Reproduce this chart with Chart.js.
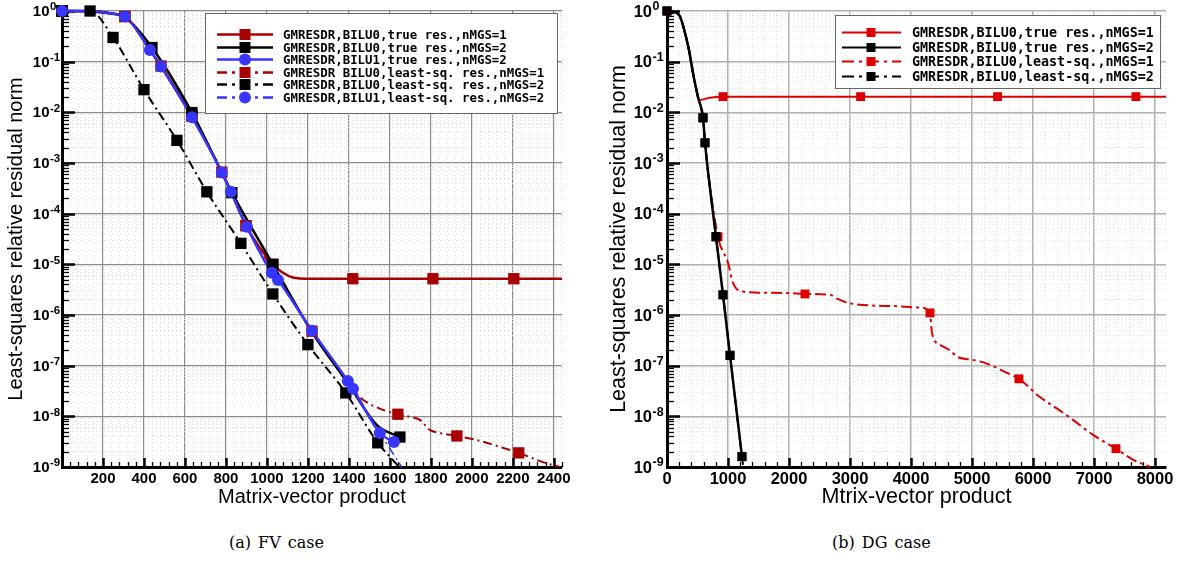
<!DOCTYPE html>
<html>
<head>
<meta charset="utf-8">
<script src="https://cdn.jsdelivr.net/npm/chart.js@4"></script>
<style>
  body { margin: 0; background: #fff; width: 1182px; height: 561px; position: relative; overflow: hidden; }
  canvas { position: absolute; top: 0; }
  #fv { left: 0; }
  #dg { left: 600px; }
  .cap { position: absolute; top: 533px; font: 16px "DejaVu Serif", "Liberation Serif", serif; color: #000; word-spacing: 2px; }
</style>
</head>
<body>
<canvas id="fv" width="590" height="520"></canvas>
<canvas id="dg" width="582" height="520"></canvas>
<div class="cap" style="left:229px">(a) FV case</div>
<div class="cap" style="left:832px">(b) DG case</div>
<script>
// ---------- (a) FV case ----------
const fvLabels = [
  "GMRESDR,BILU0,true res.,nMGS=1",
  "GMRESDR,BILU0,true res.,nMGS=2",
  "GMRESDR,BILU1,true res.,nMGS=2",
  "GMRESDR BILU0,least-sq. res.,nMGS=1",
  "GMRESDR,BILU0,least-sq. res.,nMGS=2",
  "GMRESDR,BILU1,least-sq. res.,nMGS=2"
];
const fvXTicks = [200, 400, 600, 800, 1000, 1200, 1400, 1600, 1800, 2000, 2200, 2400];

// true res., BILU0, nMGS=1
const fvT1X = [0, 137, 234, 307, 429, 483, 634, 780, 824, 898, 1029, 1078, 1127, 1210, 1419, 1810, 2205, 2440];
const fvT1Y = [1, 0.98, 0.9, 0.78, 0.17, 0.082, 0.0085, 6.6e-4, 2.8e-4, 5.8e-5, 1.0e-5, 6.8e-6, 5.5e-6, 5.2e-6, 5.2e-6, 5.2e-6, 5.2e-6, 5.2e-6];
const fvT1M = [0, 307, 483, 634, 780, 898, 1029, 1419, 1810, 2205];
// true res., BILU0, nMGS=2
const fvT2X = [0, 137, 234, 307, 439, 634, 829, 1029, 1220, 1395, 1537, 1649];
const fvT2Y = [1, 1, 0.9, 0.75, 0.19, 0.0099, 2.6e-4, 1.0e-5, 4.6e-7, 4.5e-8, 6.7e-9, 3.9e-9];
const fvT2M = [0, 439, 634, 829, 1029, 1649];
// true res., BILU1, nMGS=2
const fvT3X = [0, 137, 234, 307, 429, 483, 634, 780, 824, 902, 1024, 1054, 1220, 1395, 1420, 1551, 1620];
const fvT3Y = [1, 1, 0.9, 0.78, 0.17, 0.08, 0.008, 6.5e-4, 2.7e-4, 5.5e-5, 6.8e-6, 4.9e-6, 4.9e-7, 5e-8, 3.5e-8, 4.7e-9, 3.1e-9];
const fvT3M = [0, 307, 429, 634, 780, 902, 1024, 1220, 1395, 1551, 1620];
// least-sq. res., BILU0, nMGS=1
const fvL1X = [0, 137, 234, 307, 429, 483, 634, 780, 898, 1029, 1220, 1395, 1454, 1537, 1639, 1698, 1746, 1795, 1844, 1927, 2024, 2151, 2229, 2346, 2429];
const fvL1Y = [1, 1, 0.9, 0.78, 0.17, 0.082, 0.0085, 6.6e-4, 5.8e-5, 8e-6, 4.8e-7, 5e-8, 2.4e-8, 1.5e-8, 1.1e-8, 9.8e-9, 8.5e-9, 5.4e-9, 4.7e-9, 4.1e-9, 3.4e-9, 2.4e-9, 1.9e-9, 1.25e-9, 1e-9];
const fvL1M = [0, 307, 634, 898, 1220, 1639, 1927, 2229];
// least-sq. res., BILU0, nMGS=2
const fvL2X = [0, 137, 249, 400, 561, 707, 873, 1029, 1200, 1385, 1541, 1624, 1645];
const fvL2Y = [1, 1, 0.30, 0.028, 0.0028, 2.7e-4, 2.6e-5, 2.6e-6, 2.6e-7, 2.9e-8, 3.0e-9, 1.25e-9, 1e-9];
const fvL2M = [0, 137, 249, 400, 561, 707, 873, 1029, 1200, 1385, 1541];
// least-sq. res., BILU1, nMGS=2
const fvL3X = [0, 137, 234, 307, 429, 483, 634, 780, 824, 902, 1024, 1054, 1220, 1395, 1420, 1551, 1658];
const fvL3Y = [1, 1, 0.9, 0.78, 0.17, 0.08, 0.008, 6.5e-4, 2.7e-4, 5.5e-5, 6.8e-6, 4.9e-6, 4.9e-7, 5e-8, 3.5e-8, 4.7e-9, 1e-9];
const fvL3M = [483, 824, 1054, 1420];

// ---------- (b) DG case ----------
const dgLabels = [
  "GMRESDR,BILU0,true res.,nMGS=1",
  "GMRESDR,BILU0,true res.,nMGS=2",
  "GMRESDR,BILU0,least-sq.,nMGS=1",
  "GMRESDR,BILU0,least-sq.,nMGS=2"
];
const dgXTicks = [0, 1000, 2000, 3000, 4000, 5000, 6000, 7000, 8000];

const dgT1X = [0, 100, 213, 295, 360, 426, 508, 541, 590, 705, 918, 3174, 5419, 7687, 8180];
const dgT1Y = [1, 0.97, 0.78, 0.37, 0.17, 0.06, 0.02, 0.0175, 0.018, 0.0195, 0.0204, 0.0204, 0.0204, 0.0204, 0.0204];
const dgT1M = [0, 918, 3174, 5419, 7687];

const dgT2X = [0, 100, 213, 295, 360, 426, 508, 590, 623, 803, 918, 1033, 1229];
const dgT2Y = [1, 0.97, 0.78, 0.37, 0.17, 0.06, 0.02, 0.0078, 0.0025, 3.5e-5, 2.5e-6, 1.6e-7, 1.6e-9];
const dgT2M = [0, 590, 623, 803, 918, 1033, 1229];

const dgL1X = [0, 100, 213, 295, 360, 426, 508, 590, 623, 836, 1000, 1082, 1246, 1600, 2016, 2262, 2672, 2787, 3000, 3705, 4147, 4311, 4344, 4475, 4639, 4754, 5016, 5245, 5573, 5770, 6115, 6442, 6655, 6983, 7360, 7638, 7917];
const dgL1Y = [1, 0.97, 0.78, 0.37, 0.17, 0.06, 0.02, 0.0078, 0.0025, 3.5e-5, 1.07e-5, 4.3e-6, 2.9e-6, 2.75e-6, 2.7e-6, 2.6e-6, 2.5e-6, 2.1e-6, 1.7e-6, 1.5e-6, 1.4e-6, 1.1e-6, 4.4e-7, 2.6e-7, 2.0e-7, 1.5e-7, 1.3e-7, 1.1e-7, 7.2e-8, 5.5e-8, 2.4e-8, 1.3e-8, 8.5e-9, 4.3e-9, 2.3e-9, 1.4e-9, 1e-9];
const dgL1M = [590, 836, 2262, 4311, 5770, 7360];

const dgL2X = [0, 100, 213, 295, 360, 426, 508, 590, 623, 803, 918, 1033, 1229, 1246];
const dgL2Y = [1, 0.97, 0.78, 0.37, 0.17, 0.06, 0.02, 0.0078, 0.0025, 3.5e-5, 2.5e-6, 1.6e-7, 1.6e-9, 1.1e-9];
const dgL2M = [0, 590, 623, 803, 918, 1033, 1229];

const yDecades = [0, -1, -2, -3, -4, -5, -6, -7, -8, -9];

const SANS = '"Liberation Sans", Arial, Helvetica, sans-serif';
const MONO = '"DejaVu Sans Mono", monospace';

function pts(xs, ys) { return xs.map((x, i) => ({ x: x, y: ys[i] })); }
function marks(xs, ys, mx) { return mx.map(x => ({ x: x, y: ys[xs.indexOf(x)] })); }
function isDecade(v) { const l = Math.log10(v); return Math.abs(l - Math.round(l)) < 1e-6; }

// inward tick marks + 10^k labels
const axisDeco = {
  id: 'axisDeco',
  beforeDatasetsDraw(chart, args, o) {
    const { ctx, chartArea: a } = chart;
    const x = chart.scales.x, y = chart.scales.y;
    ctx.save();
    ctx.strokeStyle = '#000';
    ctx.lineCap = 'butt';
    x.ticks.forEach(t => {
      const px = Math.round(x.getPixelForValue(t.value)) + 0.5;
      const major = t.value % o.xMajor === 0;
      ctx.lineWidth = major ? 2.5 : 1.3;
      ctx.beginPath();
      ctx.moveTo(px, a.bottom);
      ctx.lineTo(px, a.bottom - (major ? o.xMajLen : o.xMinLen));
      ctx.stroke();
    });
    y.ticks.forEach(t => {
      const py = Math.round(y.getPixelForValue(t.value)) + 0.5;
      const major = isDecade(t.value);
      ctx.lineWidth = major ? 2.5 : 1.3;
      ctx.beginPath();
      ctx.moveTo(a.left, py);
      ctx.lineTo(a.left + (major ? o.yMajLen : o.yMinLen), py);
      ctx.stroke();
    });
    ctx.fillStyle = '#000';
    ctx.textBaseline = 'middle';
    yDecades.forEach(k => {
      const py = y.getPixelForValue(Math.pow(10, k));
      ctx.font = 'bold ' + o.labSize + 'px ' + SANS;
      ctx.textAlign = 'right';
      ctx.fillText('10', a.left - o.labGap, py + 1);
      ctx.font = 'bold ' + o.expSize + 'px ' + SANS;
      ctx.textAlign = 'left';
      ctx.fillText(String(k), a.left - o.labGap + 0.5, py - 4);
    });
    ctx.restore();
  }
};

// boxed legend, line + marker + label
const boxLegend = {
  id: 'boxLegend',
  afterDraw(chart, args, o) {
    const { ctx, chartArea: a } = chart;
    const x0 = a.left + o.dx, y0 = a.top + o.dy;
    ctx.save();
    ctx.fillStyle = '#fff';
    ctx.fillRect(x0, y0, o.w, o.h);
    ctx.strokeStyle = '#666';
    ctx.lineWidth = 1;
    ctx.strokeRect(x0 + 0.5, y0 + 0.5, o.w, o.h);
    o.items.forEach((it, i) => {
      const cy = Math.round(y0 + o.first + i * o.step) + 0.5;
      ctx.strokeStyle = it.color;
      ctx.lineWidth = it.width;
      ctx.setLineDash(it.dash);
      ctx.beginPath();
      ctx.moveTo(x0 + o.lx0, cy);
      ctx.lineTo(x0 + o.lx1, cy);
      ctx.stroke();
      ctx.setLineDash([]);
      ctx.fillStyle = it.color;
      const mx = x0 + o.mx;
      if (it.marker === 'circle') {
        ctx.beginPath();
        ctx.arc(mx, cy, o.circR, 0, Math.PI * 2);
        ctx.fill();
      } else {
        ctx.fillRect(mx - o.sq / 2, cy - o.sq / 2, o.sq, o.sq);
      }
      ctx.fillStyle = '#000';
      ctx.font = 'bold ' + o.fontSize + 'px ' + MONO;
      ctx.textAlign = 'left';
      ctx.textBaseline = 'middle';
      ctx.fillText(it.label, x0 + o.tx, cy + 1);
    });
    ctx.restore();
  }
};

function makeChart(id, series, o) {
  const datasets = [];
  series.forEach(s => {
    datasets.push({
      data: pts(s.x, s.y), borderColor: s.color, borderWidth: s.width, borderDash: s.dash,
      pointRadius: 0, cubicInterpolationMode: 'monotone', fill: false, clip: 2, order: 20 + s.z
    });
    datasets.push({
      data: marks(s.x, s.y, s.m), showLine: false, pointStyle: s.marker, pointRadius: s.r,
      pointBackgroundColor: s.color, pointBorderColor: s.color, pointBorderWidth: 0, clip: false, order: s.z
    });
  });
  const xMajor = t => t.tick && t.tick.value % o.xMajor === 0;
  const yMajor = t => t.tick && isDecade(t.tick.value);
  return new Chart(document.getElementById(id), {
    type: 'line',
    data: { datasets: datasets },
    options: {
      responsive: false,
      animation: false,
      devicePixelRatio: 1,
      events: [],
      layout: { padding: { top: 11, right: o.padRight, left: 0, bottom: 0 } },
      plugins: {
        legend: { display: false },
        tooltip: { enabled: false },
        axisDeco: o.deco,
        boxLegend: Object.assign({}, o.legend, {
          items: series.map(s => ({ color: s.color, width: s.legW, dash: s.legDash, marker: s.marker, label: s.label }))
        })
      },
      scales: {
        x: {
          type: 'linear', min: 0, max: o.xMax,
          afterBuildTicks: s => {
            const t = [];
            for (let v = 0; v <= o.xMax; v += o.xMinor) t.push({ value: v });
            s.ticks = t;
          },
          afterFit: s => { s.height = o.xAxisH; },
          ticks: {
            autoSkip: false, maxRotation: 0, minRotation: 0, padding: 3, color: '#000',
            font: { family: SANS, size: o.tickSize, weight: 'bold' },
            callback: v => o.xLabels.includes(v) ? String(v) : ''
          },
          grid: {
            drawTicks: false,
            color: c => xMajor(c) ? o.gridMajor : o.gridMinor,
            lineWidth: c => xMajor(c) ? o.gridMajorW : 1
          },
          border: { color: '#000', width: 3, dash: c => (c.tick && !xMajor(c)) ? [1, 3] : [] },
          title: {
            display: true, text: o.xTitle, color: '#000',
            font: { family: SANS, size: o.titleSize }, padding: { top: 0, bottom: o.xTitlePad }
          }
        },
        y: {
          type: 'logarithmic', min: 1e-9, max: 1,
          afterBuildTicks: s => {
            const t = [];
            yDecades.slice().reverse().forEach(k => {
              for (let m = 1; m <= 9; m++) {
                const v = Number(m + 'e' + k);
                if (v <= 1) t.push({ value: v });
              }
            });
            s.ticks = t;
          },
          afterFit: s => { s.width = o.yAxisW; },
          ticks: { display: false },
          grid: {
            drawTicks: false,
            color: c => yMajor(c) ? o.gridMajor : o.gridMinor,
            lineWidth: c => yMajor(c) ? o.gridMajorW : 1
          },
          border: { color: '#000', width: 3, dash: c => (c.tick && !yMajor(c)) ? [1, 3] : [] },
          title: {
            display: true, text: 'Least-squares relative residual norm', color: '#000',
            font: { family: SANS, size: o.titleSize }, padding: { top: o.yTitlePad, bottom: 0 }
          }
        }
      }
    },
    plugins: [axisDeco, boxLegend]
  });
}

const fvRed = '#a80000', fvBlue = '#3636ff', dgRed = '#dc0000';
const DASHDOT = [9, 4, 2, 4];

makeChart('fv', [
  { x: fvT1X, y: fvT1Y, m: fvT1M, color: fvRed, width: 2.5, dash: [], marker: 'rect', r: 8, z: 5, legW: 2.5, legDash: [], label: fvLabels[0] },
  { x: fvT2X, y: fvT2Y, m: fvT2M, color: '#000', width: 2.5, dash: [], marker: 'rect', r: 8, z: 3, legW: 2.5, legDash: [], label: fvLabels[1] },
  { x: fvT3X, y: fvT3Y, m: fvT3M, color: fvBlue, width: 2.5, dash: [], marker: 'circle', r: 6, z: 1, legW: 2.5, legDash: [], label: fvLabels[2] },
  { x: fvL1X, y: fvL1Y, m: fvL1M, color: fvRed, width: 2, dash: DASHDOT, marker: 'rect', r: 8, z: 4, legW: 2.5, legDash: [10, 5, 3, 5], label: fvLabels[3] },
  { x: fvL2X, y: fvL2Y, m: fvL2M, color: '#000', width: 2, dash: DASHDOT, marker: 'rect', r: 8, z: 2, legW: 2.5, legDash: [10, 5, 3, 5], label: fvLabels[4] },
  { x: fvL3X, y: fvL3Y, m: fvL3M, color: fvBlue, width: 1.5, dash: DASHDOT, marker: 'circle', r: 6, z: 0, legW: 2.5, legDash: [10, 5, 3, 5], label: fvLabels[5] }
], {
  xMax: 2440, xMinor: 40, xMajor: 200, xLabels: fvXTicks, xAxisH: 53, yAxisW: 62, padRight: 28,
  tickSize: 15, titleSize: 20, xTitle: 'Matrix-vector product', xTitlePad: 11, yTitlePad: 4,
  gridMajor: '#8c8c8c', gridMajorW: 1.2, gridMinor: '#dcdcdc',
  deco: { xMajor: 200, xMajLen: 9, xMinLen: 5, yMajLen: 13, yMinLen: 7, labSize: 15, expSize: 11.5, labGap: 12.5 },
  legend: { dx: 143, dy: 2, w: 352, h: 100, first: 21, step: 12.6, lx0: 12, lx1: 68, mx: 40, tx: 78, sq: 11, circR: 6, fontSize: 12.4 }
});

makeChart('dg', [
  { x: dgT1X, y: dgT1Y, m: dgT1M, color: dgRed, width: 2, dash: [], marker: 'rect', r: 6.3, z: 3, legW: 2, legDash: [], label: dgLabels[0] },
  { x: dgT2X, y: dgT2Y, m: dgT2M, color: '#000', width: 2.5, dash: [], marker: 'rect', r: 6.3, z: 0, legW: 2, legDash: [], label: dgLabels[1] },
  { x: dgL1X, y: dgL1Y, m: dgL1M, color: dgRed, width: 2, dash: [11, 4, 3, 4], marker: 'rect', r: 6.3, z: 2, legW: 2, legDash: [12, 5, 3, 5], label: dgLabels[2] },
  { x: dgL2X, y: dgL2Y, m: dgL2M, color: '#000', width: 2, dash: [11, 4, 3, 4], marker: 'rect', r: 6.3, z: 1, legW: 2, legDash: [12, 5, 3, 5], label: dgLabels[3] }
], {
  xMax: 8180, xMinor: 200, xMajor: 1000, xLabels: dgXTicks, xAxisH: 53, yAxisW: 67, padRight: 16,
  tickSize: 16.5, titleSize: 21.5, xTitle: 'Mtrix-vector product', xTitlePad: 10, yTitlePad: 6,
  gridMajor: '#b0b0b0', gridMajorW: 1.5, gridMinor: '#dedede',
  deco: { xMajor: 1000, xMajLen: 9, xMinLen: 5, yMajLen: 13, yMinLen: 7, labSize: 16.5, expSize: 12.5, labGap: 15 },
  legend: { dx: 168, dy: 4, w: 325, h: 73, first: 17, step: 14.7, lx0: 7, lx1: 66, mx: 36, tx: 77, sq: 9, circR: 5, fontSize: 13.4 }
});
</script>
</body>
</html>
